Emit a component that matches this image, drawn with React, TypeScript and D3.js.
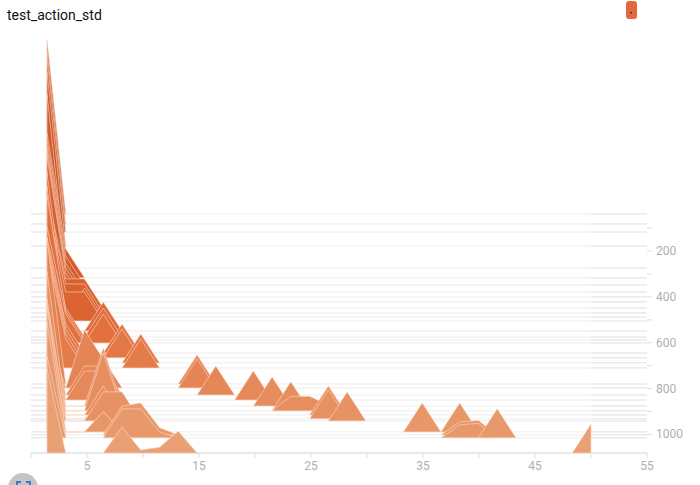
import React from "react";
import * as d3 from "d3";

const title = "test_action_std";
const binCenters = [1.43,3.10,4.78,6.45,8.13,9.80,11.48,13.15,14.83,16.50,18.18,19.85,21.53,23.20,24.88,26.55,28.23,29.90,31.58,33.25,34.93,36.60,38.28,39.95,41.63,43.30,44.98,46.65,48.33,50.00];
const xTicks = [0,5,10,15,20,25,30,35,40,45,50,55];
const xLabels = [5,15,25,35,45,55];
const yTicks = [100,200,300,400,500,600,700,800,900,1000];
const yLabels = [200,400,600,800,1000];

const steps = [38,82,117,178,274,317,348,379,400,422,448,470,488,505,549,575,588,601,645,666,688,710,780,797,828,850,876,897,897,915,932,941,989,989,1002,1015,1015,1081];
// sparse [bin, count] pairs for each step
const counts: [number, number][][] = [
  [[0,6]],
  [[0,6]],
  [[0,6]],
  [[0,6]],
  [[0,6]],
  [[0,5],[1,1]],
  [[0,5],[1,1]],
  [[0,5],[1,1]],
  [[0,5],[1,1]],
  [[0,5],[1,1]],
  [[0,4],[1,1],[2,1]],
  [[0,4],[1,1],[2,1]],
  [[0,5],[2,1]],
  [[0,4],[1,1],[2,1]],
  [[0,5],[3,1]],
  [[0,4],[1,1],[3,1]],
  [[0,5],[1,1]],
  [[0,4],[1,1],[3,1]],
  [[0,4],[1,1],[4,1]],
  [[0,4],[1,1],[4,1]],
  [[0,4],[1,1],[5,1]],
  [[0,4],[1,1],[5,1]],
  [[0,5],[8,1]],
  [[0,2],[2,2],[3,1],[8,1]],
  [[0,3],[2,1],[3,1],[9,1]],
  [[0,3],[2,1],[3,1],[11,1]],
  [[0,3],[3,2],[12,1]],
  [[0,3],[3,2],[13,1]],
  [[0,4.8],[13,0.5],[14,0.5],[15,0.2]],
  [[0,4],[3,1],[15,1]],
  [[0,4],[3,0.5],[15,1]],
  [[0,3],[3,1],[4,1],[16,1]],
  [[0,4.3],[3,0.7],[20,1]],
  [[0,4.3],[3,0.7],[22,1]],
  [[0,2.7],[4,1],[5,1.1],[6,0.25],[22,0.45],[23,0.5]],
  [[0,4],[22,0.45],[23,0.5]],
  [[0,2.8],[4,1],[5,1],[6,0.2],[24,1]],
  [[0,2.9],[4,0.9],[5,0.1],[6,0.2],[7,0.75],[29,1]],
];

const x = d3.scaleLinear().domain([0, 55]).range([31, 647]);
const y = d3.scaleLinear().domain([0, 1081]).range([205.2, 453]);
const h = d3.scaleLinear().domain([0, 6]).range([0, 174]);
const color = d3.scaleLinear<string>().domain([0, 470, 601, 1081]).range(["#c4542a", "#d9602f", "#e3703f", "#e9a073"]);

export default function App() {
  const rows = steps.map((s, r) => {
    const vals = binCenters.map(() => 0);
    counts[r].forEach(([b, c]) => { vals[b] = c; });
    const area = d3.area<number>()
      .defined((v, i) => v > 0 || (vals[i - 1] ?? 0) > 0 || (vals[i + 1] ?? 0) > 0)
      .x((_, i) => x(binCenters[i]))
      .y0(y(s))
      .y1((v) => y(s) - h(v));
    return { s, d: area(vals) || "" };
  });
  const gridSteps = Array.from(new Set(steps));
  const gray = "#b0b0b0";
  return (
    <svg width={700} height={485} style={{ position: "absolute", left: 0, top: 0, display: "block", fontFamily: "Roboto, sans-serif" }}>
      <text x={7} y={20} fontSize={14} fill="#111">{title}</text>
      <rect x={626} y={1} width={11} height={18} rx={3} fill="#e2693c" />
      <rect x={630.5} y={12} width={1.5} height={1.5} fill="#222" />

      {gridSteps.map((s) => (
        <g key={"g" + s} stroke="#dcdcdc" strokeWidth={1} strokeOpacity={0.5}>
          <line x1={31} x2={647} y1={y(s)} y2={y(s)} />
          {s < 1081 && <line x1={x(50)} x2={647} y1={y(s)} y2={y(s)} />}
          {s < 1081 && <line x1={31} x2={x(1.43)} y1={y(s)} y2={y(s)} />}
        </g>
      ))}

      <line x1={31} x2={647} y1={453} y2={453} stroke="#dddddd" />
      {xTicks.map((t) => (
        <line key={t} x1={x(t)} x2={x(t)} y1={453} y2={458} stroke="#dddddd" />
      ))}
      {xLabels.map((t) => (
        <text key={t} x={x(t)} y={470} fontSize={12} fill={gray} textAnchor="middle">{t}</text>
      ))}
      {yTicks.map((t) => (
        <line key={t} x1={647} x2={652} y1={y(t)} y2={y(t)} stroke="#dddddd" />
      ))}
      {yLabels.map((t) => (
        <text key={t} x={656} y={y(t) + 4} fontSize={12} fill={gray}>{t}</text>
      ))}

      {rows.map((r, i) => (
        <path key={i} d={r.d} fill={color(r.s)} stroke="#fbd9c4" strokeOpacity={0.6} strokeWidth={1} />
      ))}

      <circle cx={23} cy={488} r={15} fill="#c4c4c4" />
      <path d="M17 485 V482 H21 M26 482 H30 V485" fill="none" stroke="#3b78d8" strokeWidth={2} />
    </svg>
  );
}
